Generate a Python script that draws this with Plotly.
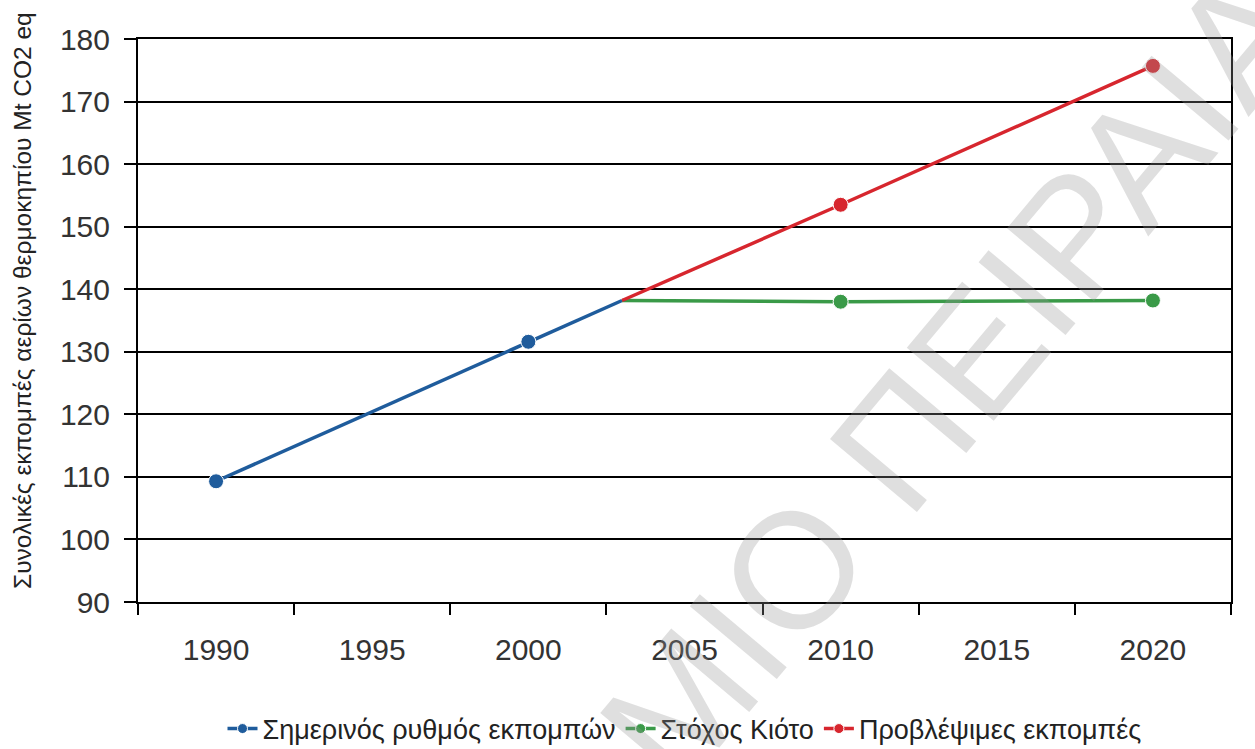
import plotly.graph_objects as go

# Emission series (Mt CO2 eq)
current_years = [1990, 2000, 2003]
current_values = [109.3, 131.6, 138.2]

kyoto_years = [2003, 2010, 2020]
kyoto_values = [138.2, 138.0, 138.2]

projected_years = [2003, 2010, 2020]
projected_values = [138.2, 153.5, 175.7]

series_names = ["Σημερινός ρυθμός εκπομπών", "Στόχος Κιότο", "Προβλέψιμες εκπομπές"]
year_labels = [1990, 1995, 2000, 2005, 2010, 2015, 2020]
y_ticks = [90, 100, 110, 120, 130, 140, 150, 160, 170, 180]

colors = ["#1f5c9c", "#3a9a48", "#d7262e"]
FONT = "Liberation Sans, Arial, sans-serif"


def marker_sizes(years, skip):
    # the shared 2003 junction point is drawn without a marker
    return [0 if y == skip else 15 for y in years]


fig = go.Figure()
for name, xs, ys, col in [
    (series_names[0], current_years, current_values, colors[0]),
    (series_names[1], kyoto_years, kyoto_values, colors[1]),
    (series_names[2], projected_years, projected_values, colors[2]),
]:
    fig.add_trace(go.Scatter(
        x=xs, y=ys, name=name, mode="lines+markers",
        line=dict(color=col, width=3.5),
        marker=dict(color=col, size=marker_sizes(xs, 2003), opacity=1),
    ))

fig.update_layout(
    width=1255, height=749,
    margin=dict(l=138, r=24, t=39, b=147, autoexpand=False),
    paper_bgcolor="white", plot_bgcolor="white",
    font=dict(family=FONT, color="#222222"),
    showlegend=True,
    legend=dict(
        orientation="h", x=0.5, xanchor="center",
        y=-(729 - 602) / 563, yanchor="middle",
        font=dict(size=27, color="#222222"),
        itemwidth=30, tracegroupgap=0,
    ),
    xaxis=dict(
        range=[1987.5, 2022.5],
        tickvals=year_labels, ticktext=[str(v) for v in year_labels],
        ticks="", showgrid=False, zeroline=False,
        showline=True, linecolor="black", linewidth=2, mirror=True,
        tickfont=dict(size=30, color="#333333"),
        ticklabelstandoff=20,
        minor=dict(tick0=1987.5, dtick=5, ticks="outside", ticklen=11,
                   tickwidth=2, tickcolor="black", showgrid=False),
    ),
    yaxis=dict(
        range=[90, 180], tickvals=y_ticks,
        ticks="outside", ticklen=12, tickwidth=2, tickcolor="black",
        showgrid=True, gridcolor="black", gridwidth=2, zeroline=False,
        showline=True, linecolor="black", linewidth=2, mirror=True,
        tickfont=dict(size=30, color="#333333"),
        ticklabelstandoff=8,
    ),
    annotations=[
        dict(
            text="Συνολικές εκπομπές αερίων θερμοκηπίου Mt CO2 eq",
            textangle=-90, xref="paper", yref="paper",
            x=(22 - 138) / 1093, y=1 - (301 - 39) / 563,
            xanchor="center", yanchor="middle",
            showarrow=False, font=dict(size=24.5, color="#222222", family=FONT),
        ),
        dict(
            text="ΜΙΟ ΠΕΙΡΑΙΑ", textangle=-50,
            xref="paper", yref="paper",
            x=(955 - 138) / 1093, y=1 - (378 - 39) / 563,
            xanchor="center", yanchor="middle", showarrow=False,
            font=dict(size=165, color="rgba(150,150,150,0.3)", family=FONT),
        ),
    ],
)

fig.write_html("out.html")
